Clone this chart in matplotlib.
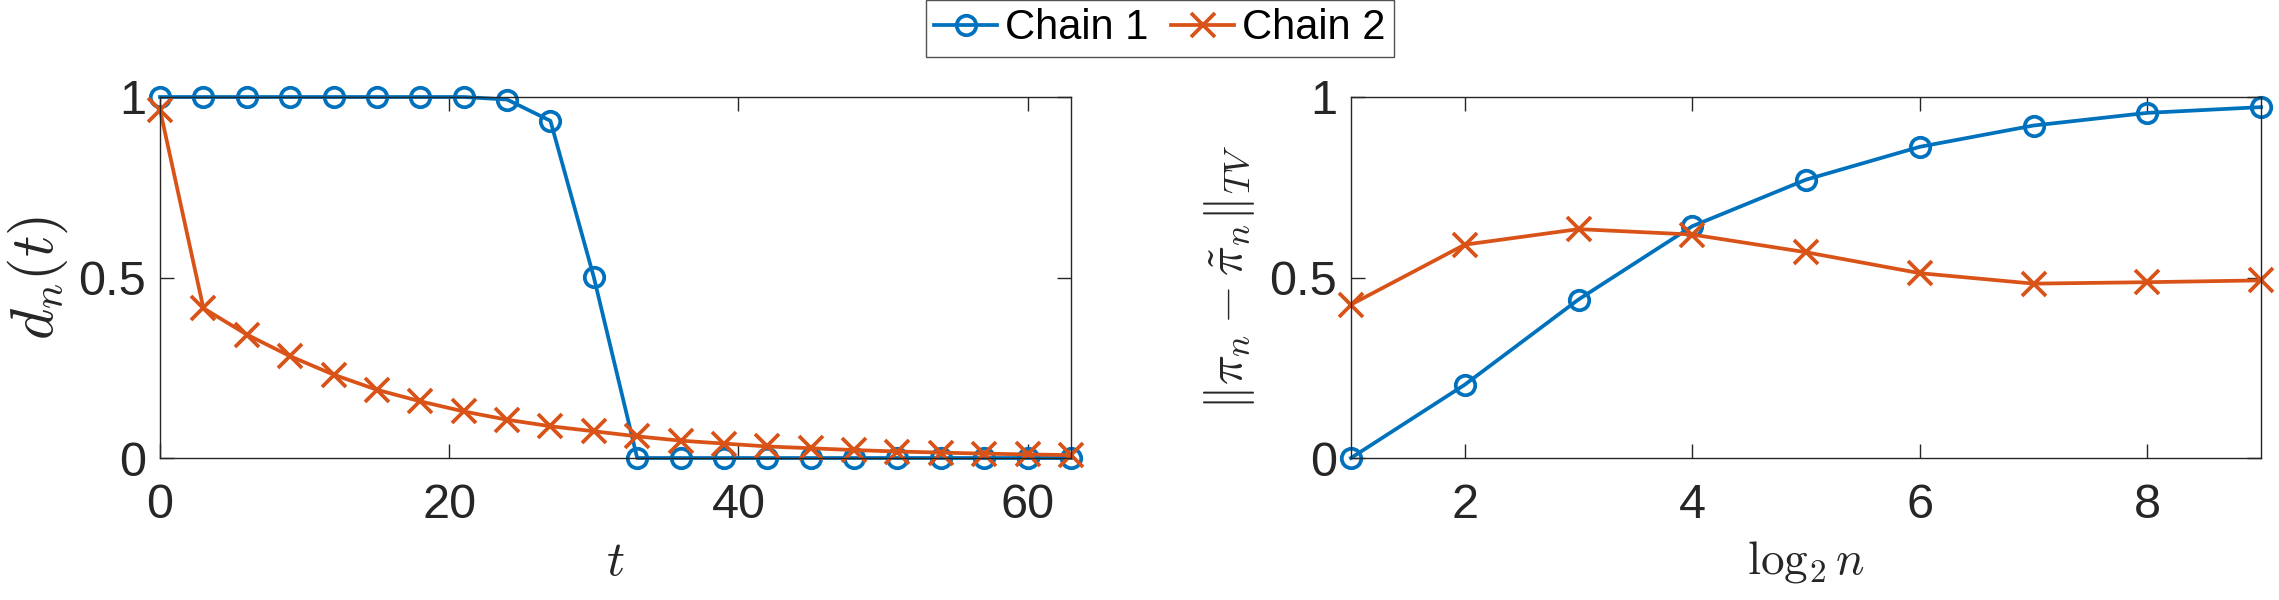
import numpy as np
import matplotlib
matplotlib.use("Agg")
import matplotlib.pyplot as plt

# ---- data ----
t_vals = list(range(0, 64, 3))
chain1_d = [1.0, 1.0, 1.0, 1.0, 1.0, 1.0, 1.0, 1.0, 0.993, 0.934, 0.501,
            0.0, 0.0, 0.0, 0.0, 0.0, 0.0, 0.0, 0.0, 0.0, 0.0, 0.0]
chain2_d = [0.965, 0.415, 0.342, 0.282, 0.231, 0.189, 0.157, 0.129, 0.106, 0.088,
            0.074, 0.060, 0.048, 0.040, 0.032, 0.027, 0.022, 0.018, 0.015, 0.012,
            0.010, 0.008]

log2n = [1, 2, 3, 4, 5, 6, 7, 8, 9]
chain1_tv = [0.0, 0.203, 0.439, 0.642, 0.771, 0.862, 0.921, 0.956, 0.972]
chain2_tv = [0.425, 0.591, 0.634, 0.619, 0.570, 0.512, 0.483, 0.487, 0.492]

left_xticks = [0, 20, 40, 60]
right_xticks = [2, 4, 6, 8]
yticks = [0, 0.5, 1]
ytick_labels = ["0", "0.5", "1"]
series_names = ["Chain 1", "Chain 2"]

BLUE = "#0072BD"
ORANGE = "#D95319"
AXC = "#262626"

plt.rcParams['font.family'] = ['Liberation Sans', 'DejaVu Sans']
plt.rcParams['mathtext.fontset'] = 'cm'

W, H = 2279, 600
fig = plt.figure(figsize=(W / 100, H / 100), dpi=100)

ax1 = fig.add_axes([160 / W, (H - 458) / H, (1071 - 160) / W, (458 - 97) / H])
ax2 = fig.add_axes([1351 / W, (H - 458) / H, (2261 - 1351) / W, (458 - 97) / H])

lw = 2.7
circ = dict(marker='o', markersize=14, markerfacecolor='none', markeredgewidth=2.7)
xm = dict(marker='x', markersize=17.5, markeredgewidth=2.7)

l1, = ax1.plot(t_vals, chain1_d, color=BLUE, lw=lw, clip_on=False, **circ)
l2, = ax1.plot(t_vals, chain2_d, color=ORANGE, lw=lw, clip_on=False, **xm)
ax2.plot(log2n, chain1_tv, color=BLUE, lw=lw, clip_on=False, **circ)
ax2.plot(log2n, chain2_tv, color=ORANGE, lw=lw, clip_on=False, **xm)

ax1.set_xlim(0, 63)
ax2.set_xlim(1, 9)
ax1.set_xticks(left_xticks)
ax2.set_xticks(right_xticks)

for ax in (ax1, ax2):
    ax.set_ylim(0, 1)
    ax.set_yticks(yticks)
    ax.set_yticklabels(ytick_labels)
    ax.tick_params(direction='in', length=10, width=1.0, top=True, right=True,
                   labelsize=35, colors=AXC)
    ax.tick_params(axis='x', pad=18)
    ax.tick_params(axis='y', pad=10)
    for s in ax.spines.values():
        s.set_color(AXC)
        s.set_linewidth(1.0)

ax1.set_xlabel(r'$t$', fontsize=36, color=AXC, labelpad=8)
ax1.set_ylabel(r'$d_n(t)$', fontsize=43, color=AXC, labelpad=6)
ax2.set_xlabel(r'$\log_2 n$', fontsize=34, color=AXC, labelpad=8)
ax2.set_ylabel(r'$\|\pi_n - \tilde{\pi}_n\|_{TV}$', fontsize=36, color=AXC, labelpad=9)

leg = fig.legend([l1, l2], series_names, loc='upper center', bbox_to_anchor=(1160 / W, 1.0),
                 ncol=2, fontsize=30, frameon=True, fancybox=False,
                 handlelength=1.5, handletextpad=0.2, columnspacing=0.55,
                 borderpad=0.2, borderaxespad=0.0)
leg.get_frame().set_edgecolor(AXC)
leg.get_frame().set_linewidth(1.0)
for h in leg.legend_handles:
    h.set_linewidth(2.7)

fig.savefig('out.png', dpi=100)
